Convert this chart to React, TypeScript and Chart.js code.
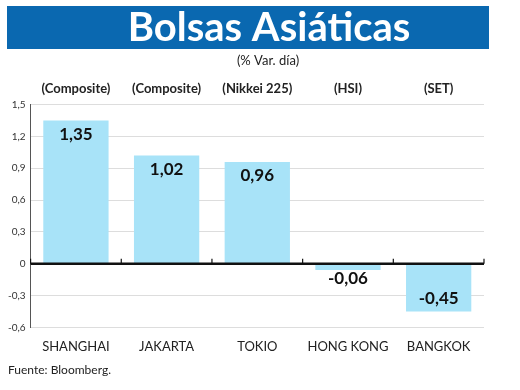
import React, { useEffect, useRef } from "react";
import { Chart, registerables } from "chart.js";

Chart.register(...registerables);

const categories = ["SHANGHAI", "JAKARTA", "TOKIO", "HONG KONG", "BANGKOK"];
const indexNames = ["(Composite)", "(Composite)", "(Nikkei 225)", "(HSI)", "(SET)"];
const values = [1.35, 1.02, 0.96, -0.06, -0.45];
const valueLabels = ["1,35", "1,02", "0,96", "-0,06", "-0,45"];
const titleText = "Bolsas Asiáticas";
const subtitleText = "(% Var. día)";
const sourceText = "Fuente: Bloomberg.";

const FONT = "Lato, 'Open Sans', sans-serif";
const NARROW = "'Liberation Sans Narrow', Lato, sans-serif";

const decorPlugin = {
  id: "decor",
  beforeDraw(chart: any) {
    const ctx = chart.ctx;
    ctx.save();
    ctx.fillStyle = "#ffffff";
    ctx.fillRect(0, 0, chart.width, chart.height);
    ctx.fillStyle = "#0a68b0";
    ctx.fillRect(7, 6, 482, 43);
    ctx.fillStyle = "#ffffff";
    ctx.font = `bold 40px ${FONT}`;
    ctx.textAlign = "center";
    ctx.textBaseline = "middle";
    ctx.fillText(titleText, 269, 28);
    ctx.fillStyle = "#222";
    ctx.font = `13px ${FONT}`;
    ctx.fillText(subtitleText, 268, 61);
    ctx.textAlign = "left";
    ctx.font = `12px ${FONT}`;
    ctx.fillText(sourceText, 8, 370);
    ctx.restore();
  },
  afterDatasetsDraw(chart: any) {
    const ctx = chart.ctx;
    const meta = chart.getDatasetMeta(0);
    const y = chart.scales.y;
    const x = chart.scales.x;
    const zero = y.getPixelForValue(0);
    ctx.save();
    ctx.strokeStyle = "#111";
    ctx.lineWidth = 2.5;
    ctx.beginPath();
    ctx.moveTo(chart.chartArea.left, zero);
    ctx.lineTo(chart.chartArea.right, zero);
    ctx.stroke();
    ctx.lineWidth = 1.2;
    for (let i = 0; i <= categories.length; i++) {
      const px = i === categories.length ? chart.chartArea.right : (i === 0 ? chart.chartArea.left : (x.getPixelForValue(i - 1) + x.getPixelForValue(i)) / 2);
      ctx.beginPath();
      ctx.moveTo(px, zero);
      ctx.lineTo(px, zero - 5);
      ctx.stroke();
    }
    ctx.fillStyle = "#111";
    ctx.font = `bold 17px ${FONT}`;
    ctx.textAlign = "center";
    ctx.textBaseline = "middle";
    meta.data.forEach((bar: any, i: number) => {
      const v = values[i];
      let ty;
      if (v >= 0) {
        ty = bar.y + 14;
      } else {
        ty = Math.max(bar.y - 13, zero + 15);
      }
      ctx.fillText(valueLabels[i], bar.x, ty);
    });
    ctx.restore();
  },
};

export default function App() {
  const ref = useRef<HTMLCanvasElement | null>(null);
  useEffect(() => {
    document.body.style.margin = "0";
    const chart = new Chart(ref.current as HTMLCanvasElement, {
      type: "bar",
      data: {
        labels: categories,
        datasets: [
          {
            data: values,
            backgroundColor: "#a8e3f8",
            borderWidth: 0,
            barPercentage: 0.72,
            categoryPercentage: 1,
          },
        ],
      },
      options: {
        animation: false,
        responsive: false,
        events: [],
        layout: { padding: { top: 81, left: 3, right: 36, bottom: 31 } },
        plugins: { legend: { display: false }, tooltip: { enabled: false } },
        scales: {
          x: {
            position: "bottom",
            grid: { display: false },
            border: { display: false },
            ticks: { color: "#222", font: { family: FONT, size: 13 }, padding: 4 },
          },
          x2: {
            type: "category",
            position: "top",
            labels: indexNames,
            grid: { display: false },
            border: { display: false },
            ticks: { color: "#222", font: { family: NARROW, size: 13, weight: "bold" }, padding: 0 },
          },
          y: {
            min: -0.6,
            max: 1.5,
            grid: { color: "#dddddd", drawTicks: false, lineWidth: 1 },
            border: { display: true, color: "#555", width: 1 },
            ticks: {
              stepSize: 0.3,
              padding: 5,
              color: "#333",
              font: { family: FONT, size: 10 },
              callback: (v: any) => {
                const n = Math.round(Number(v) * 10) / 10;
                return n === 0 ? "0" : n.toFixed(1).replace(".", ",");
              },
            },
          },
        },
      } as any,
      plugins: [decorPlugin],
    });
    return () => chart.destroy();
  }, []);
  return (
    <div style={{ width: 520, height: 390 }}>
      <canvas ref={ref} width={520} height={390} style={{ display: "block" }} />
    </div>
  );
}
